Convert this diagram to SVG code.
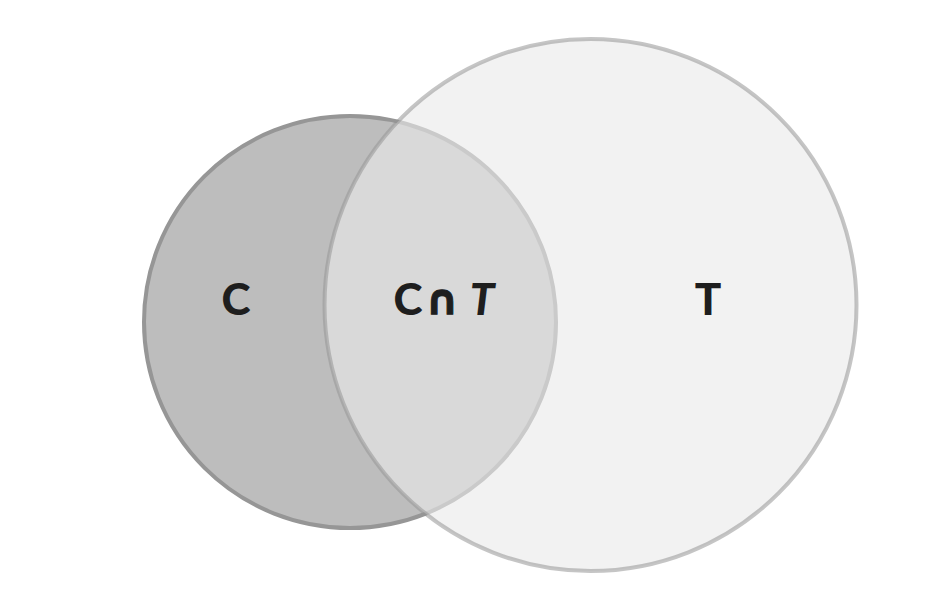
<svg xmlns="http://www.w3.org/2000/svg" width="942" height="594" viewBox="0 0 942 594">
<style>
.lbl{font-family:Lato,"Open Sans","DejaVu Sans",sans-serif;font-weight:900;font-size:44px;fill:#1e1e1e;text-anchor:middle}
</style>
<rect width="942" height="594" fill="#ffffff"/>
<g id="setC">
<circle cx="350" cy="322" r="206" fill="#bdbdbd" stroke="#969696" stroke-width="4"/>
</g>
<g id="setT">
<circle cx="590.5" cy="305" r="266" fill="rgb(234,234,234)" fill-opacity="0.62" stroke="rgb(150,150,150)" stroke-opacity="0.55" stroke-width="4"/>
</g>
<g id="labelC"><text class="lbl" x="236" y="315">C</text></g>
<g id="labelCT">
<text class="lbl" x="408" y="315">C</text>
<text class="lbl" x="442" y="314" style="font-family:'DejaVu Sans',sans-serif;font-size:42px;stroke:#1e1e1e;stroke-width:1">∩</text>
<text class="lbl" x="482" y="315" font-style="italic">T</text>
</g>
<g id="labelT"><text class="lbl" x="708" y="315">T</text></g>
</svg>
